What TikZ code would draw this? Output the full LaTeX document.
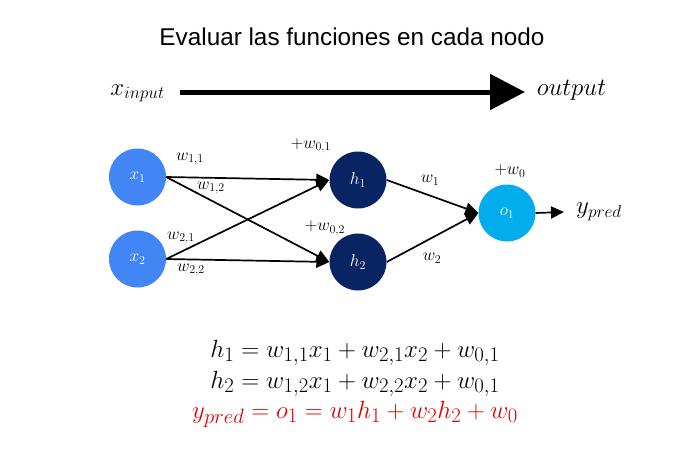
\documentclass[tikz,border=0pt]{standalone}
\usepackage{fontspec}
\setmainfont{Liberation Sans}
\usetikzlibrary{arrows.meta}
\definecolor{inblue}{RGB}{66,133,244}
\definecolor{hidnavy}{RGB}{10,36,99}
\definecolor{outcyan}{RGB}{3,172,236}
\definecolor{predred}{RGB}{226,0,0}
\begin{document}
\begin{tikzpicture}[x=1pt,y=-1pt,
  neuron/.style={circle, minimum size=57pt, inner sep=0pt, text=white,
    font=\fontsize{18}{20}\selectfont},
  wire/.style={line width=1.7pt, -{Triangle[length=13pt,width=12pt]}},
  wlabel/.style={font=\fontsize{17}{19}\selectfont, inner sep=1pt},
  bigmath/.style={font=\fontsize{26}{30}\selectfont, inner sep=0pt},
  eqline/.style={font=\fontsize{28.5}{32}\selectfont, inner sep=0pt, anchor=base},
]
\useasboundingbox[fill=white] (0,0) rectangle (692,460);

% heading
\node[font=\fontsize{24.3}{28}\selectfont] (title) at (352,37) {Evaluar las funciones en cada nodo};

% direction of evaluation
\node[bigmath, anchor=base] (xin) at (137.5,95) {$x_{input}$};
\node[bigmath, anchor=base, font=\fontsize{25}{30}\selectfont] (out) at (571.5,95) {$output$};
\coordinate (flowA) at (180,92);
\coordinate (flowB) at (525,92);
\draw[line width=5pt, -{Triangle[length=35pt,width=35pt]}] (flowA) -- (flowB);

% neurons
\node[neuron, fill=inblue] (x1) at (137.5,177) {$x_1$};
\node[neuron, fill=inblue] (x2) at (137.5,259) {$x_2$};
\node[neuron, fill=hidnavy] (h1) at (358,180) {$h_1$};
\node[neuron, fill=hidnavy] (h2) at (358,262) {$h_2$};
\node[neuron, fill=outcyan] (o1) at (507,213) {$o_1$};
\node[bigmath, anchor=west, font=\fontsize{27}{30}\selectfont] (ypred) at (576,212) {$y_{pred}$};

% weighted connections
\draw[wire] (x1.east) -- (h1.west);
\draw[wire] (x1.east) -- (h2.west);
\draw[wire] (x2.east) -- (h1.west);
\draw[wire] (x2.east) -- (h2.west);
\draw[wire] (h1.east) -- (o1.west);
\draw[wire] (h2.east) -- (o1.west);
\draw[wire] (o1.east) -- ([xshift=-12pt]ypred.west);

% weight labels
\node[wlabel] (l11) at (190,159) {$w_{1,1}$};
\node[wlabel] (l12) at (211,188) {$w_{1,2}$};
\node[wlabel] (l21) at (181,238) {$w_{2,1}$};
\node[wlabel] (l22) at (191,270) {$w_{2,2}$};
\node[wlabel] (b01) at (311,146) {$+w_{0,1}$};
\node[wlabel] (b02) at (325,228) {$+w_{0,2}$};
\node[wlabel] (l1) at (430,180) {$w_1$};
\node[wlabel] (l2) at (432,258) {$w_2$};
\node[wlabel] (b0) at (510,171) {$+w_0$};

% node equations
\node[eqline] (eq1) at (355,357) {$h_1 = w_{1,1}x_1 + w_{2,1}x_2 + w_{0,1}$};
\node[eqline] (eq2) at (355,388) {$h_2 = w_{1,2}x_1 + w_{2,2}x_2 + w_{0,1}$};
\node[eqline, text=predred] (eq3) at (355,418) {$y_{pred} = o_1 = w_1h_1 + w_2h_2 + w_0$};
\end{tikzpicture}
\end{document}
